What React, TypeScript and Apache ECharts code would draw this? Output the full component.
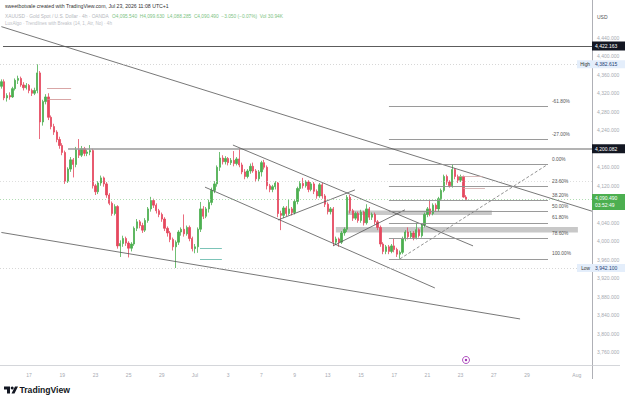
import React, { useEffect, useRef } from "react";
import * as echarts from "echarts";

const FONT = "'Liberation Sans', Arial, sans-serif";
const UP = "#4caf50";
const DOWN = "#e5485e";

// ---- time axis (4h bars, 6 per trading day; first day starts at 08:00) ----
const tradingDays = [
  "06-15", "06-16", "06-17", "06-18", "06-19", "06-22", "06-23", "06-24", "06-25", "06-26", "06-29", "06-30",
  "07-01", "07-02", "07-03", "07-06", "07-07", "07-08", "07-09", "07-10", "07-13", "07-14", "07-15", "07-16",
  "07-17", "07-20", "07-21", "07-22", "07-23", "07-24", "07-27", "07-28", "07-29", "07-30", "07-31", "08-03",
];
const firstDayHours = ["08", "12", "16", "20"];
const barHours = ["00", "04", "08", "12", "16", "20"];

const xTickDays = ["06-17", "06-19", "06-23", "06-25", "06-29", "07-01", "07-03", "07-07", "07-09", "07-13", "07-15", "07-17", "07-21", "07-23", "07-27", "07-29", "08-03"];
const xTickTexts = ["17", "19", "23", "25", "29", "Jul", "3", "7", "9", "13", "15", "17", "21", "23", "27", "29", "Aug"];

// ---- candles: [open, close, low, high] ----
const ohlc: number[][] = [
  [4335, 4345, 4330, 4350], [4345, 4310, 4305, 4350], [4310, 4315, 4302, 4320], [4315, 4312, 4306, 4322],
  [4312, 4330, 4310, 4334], [4330, 4348, 4326, 4352], [4348, 4352, 4340, 4358], [4352, 4338, 4334, 4356],
  [4338, 4332, 4326, 4344], [4332, 4337, 4328, 4342], [4337, 4326, 4320, 4340], [4326, 4320, 4314, 4330],
  [4320, 4326, 4316, 4332], [4326, 4364, 4320, 4382.615], [4364, 4258, 4221, 4368], [4258, 4302, 4250, 4306],
  [4302, 4312, 4296, 4318], [4312, 4268, 4262, 4320], [4268, 4248, 4242, 4272], [4248, 4236, 4230, 4254],
  [4236, 4220, 4214, 4240], [4220, 4207, 4200, 4226], [4207, 4192, 4186, 4212], [4192, 4130, 4124, 4196],
  [4130, 4156, 4126, 4160], [4156, 4176, 4150, 4182], [4176, 4166, 4138, 4180], [4166, 4198, 4160, 4204],
  [4198, 4186, 4180, 4221], [4186, 4200, 4182, 4206], [4200, 4190, 4184, 4204], [4190, 4193, 4184, 4198],
  [4193, 4196, 4186, 4208], [4196, 4120, 4114, 4200], [4120, 4107, 4100, 4124], [4107, 4126, 4102, 4130],
  [4126, 4137, 4120, 4142], [4137, 4124, 4118, 4140], [4124, 4100, 4094, 4128], [4100, 4082, 4078, 4104],
  [4082, 4060, 4055, 4086], [4060, 4075, 4056, 4080], [4075, 3990, 3984, 4078], [3990, 3995, 3966, 4002],
  [3995, 4006, 3988, 4012], [4006, 3996, 3990, 4010], [3996, 3985, 3965, 4000], [3985, 3994, 3978, 3998],
  [3994, 4028, 3990, 4032], [4028, 4042, 4022, 4048], [4042, 4034, 4028, 4046], [4034, 4024, 4018, 4040],
  [4024, 4045, 4020, 4050], [4045, 4070, 4040, 4074], [4070, 4088, 4064, 4096], [4088, 4078, 4072, 4092],
  [4078, 4066, 4060, 4082], [4066, 4058, 4052, 4070], [4058, 4048, 4042, 4062], [4048, 4028, 4022, 4052],
  [4028, 4018, 4010, 4032], [4018, 4004, 3998, 4022], [4004, 3988, 3980, 4008], [3988, 3998, 3942.1, 4002],
  [3998, 4020, 3992, 4024], [4020, 4026, 4012, 4030], [4026, 4016, 4010, 4058], [4016, 4030, 4012, 4034],
  [4030, 4006, 4000, 4034], [4006, 3984, 3978, 4010], [3984, 3988, 3974, 3994], [3988, 4026, 3975, 4030],
  [4026, 4070, 4020, 4085], [4070, 4054, 4048, 4076], [4054, 4070, 4050, 4074], [4070, 4084, 4062, 4090],
  [4084, 4110, 4078, 4116], [4110, 4124, 4104, 4130], [4124, 4160, 4118, 4164], [4160, 4180, 4152, 4193],
  [4180, 4172, 4166, 4186], [4172, 4179, 4166, 4184], [4179, 4170, 4164, 4182], [4170, 4175, 4165, 4180],
  [4175, 4168, 4162, 4195], [4168, 4178, 4164, 4182], [4178, 4165, 4160, 4201], [4165, 4150, 4145, 4170],
  [4150, 4140, 4134, 4156], [4140, 4152, 4136, 4156], [4152, 4162, 4146, 4168], [4162, 4152, 4148, 4170],
  [4152, 4135, 4128, 4156], [4135, 4150, 4130, 4154], [4150, 4170, 4140, 4174], [4170, 4160, 4155, 4176],
  [4160, 4120, 4112, 4164], [4120, 4112, 4106, 4124], [4112, 4118, 4106, 4122], [4118, 4126, 4112, 4130],
  [4126, 4060, 4052, 4128], [4060, 4056, 4024, 4066], [4056, 4072, 4050, 4076], [4072, 4060, 4054, 4076],
  [4060, 4070, 4056, 4090], [4070, 4062, 4056, 4074], [4062, 4086, 4058, 4090], [4086, 4114, 4080, 4118],
  [4114, 4125, 4108, 4130], [4125, 4120, 4114, 4137], [4120, 4128, 4116, 4132], [4128, 4112, 4106, 4132],
  [4112, 4124, 4108, 4128], [4124, 4108, 4102, 4128], [4108, 4098, 4092, 4112], [4098, 4122, 4094, 4126],
  [4122, 4098, 4092, 4126], [4098, 4080, 4074, 4102], [4080, 4064, 4058, 4084], [4064, 4070, 4058, 4074],
  [4070, 3998, 3990, 4074], [3998, 4005, 3992, 4010], [4005, 3998, 3988, 4008], [3998, 4018, 3994, 4022],
  [4018, 4026, 4012, 4030], [4026, 4095, 4020, 4100], [4095, 4066, 4060, 4100], [4066, 4050, 4044, 4070],
  [4050, 4060, 4046, 4064], [4060, 4045, 4040, 4064], [4045, 4063, 4040, 4068], [4063, 4040, 4034, 4066],
  [4040, 4070, 4036, 4080], [4070, 4052, 4046, 4074], [4052, 4058, 4046, 4062], [4058, 4042, 4036, 4062],
  [4042, 4030, 4024, 4046], [4030, 3994, 3988, 4034], [3994, 3978, 3972, 3998], [3978, 3988, 3972, 3992],
  [3988, 3978, 3972, 3992], [3978, 3990, 3974, 3994], [3990, 3982, 3976, 4005], [3982, 3972, 3966, 3986],
  [3972, 3976, 3962, 3980], [3976, 4005, 3972, 4010], [4005, 4020, 4000, 4024], [4020, 4010, 4004, 4030],
  [4010, 4018, 4006, 4022], [4018, 4008, 4002, 4022], [4008, 4025, 4004, 4040], [4025, 4012, 4008, 4028],
  [4012, 4035, 4008, 4038], [4035, 4058, 4030, 4062], [4058, 4070, 4052, 4074], [4070, 4060, 4054, 4090],
  [4060, 4078, 4056, 4082], [4078, 4070, 4064, 4082], [4070, 4092, 4064, 4096], [4092, 4110, 4088, 4114],
  [4110, 4140, 4106, 4144], [4140, 4128, 4122, 4144], [4128, 4120, 4116, 4132], [4120, 4155, 4116, 4166],
  [4155, 4140, 4134, 4158], [4140, 4132, 4126, 4144], [4132, 4140, 4128, 4144], [4140, 4095.54, 4094, 4142],
  [4095.54, 4090.49, 4088.285, 4099.63],
];

// ---- price axis ----
const yMin = 3720;
const yMax = 4520;
const yStep = 40;
const yShownMin = 3760;
const yShownMax = 4440;

// ---- key prices ----
const lastPrice = 4090.49;
const countdown = "03:52:49";
const highPrice = 4382.615;
const lowPrice = 3942.1;
const levelTop = 4422.163;
const levelMid = 4200.082;
const dottedLevel = 4128.8;

// ---- fibonacci retracement ----
const fibHigh = 4166;
const fibLow = 3962;
const fibRatios = [-0.618, -0.27, 0, 0.236, 0.382, 0.5, 0.618, 0.786, 1];
const fibLabels = ["-61.80%", "-27.00%", "0.00%", "23.60%", "38.20%", "50.00%", "61.80%", "78.60%", "100.00%"];
const fibFrom = 140.1;
const fibTo = 197.6;

// ---- drawings in (bar index, price) ----
const solidTrendLines = [
  [[0, 4464], [213.5, 4065]],
  [[0, 4019], [187.5, 3832]],
  [[83.7, 4208], [170.5, 3990]],
  [[73.6, 4117], [156.7, 3899]],
  [[100, 4046], [127.8, 4111]],
  [[119.9, 3990], [145.9, 4068]],
];
const dashedTrendLines = [[[144.1, 3962], [197.2, 4165]]];
const redMarks = [[[16.5, 4331], [25.2, 4331]], [[16.5, 4308], [25.2, 4308]]];
const tealMarks = [[[71.8, 3985], [79.7, 3985]], [[71.8, 3962], [79.7, 3962]]];
const pinkMarks = [[[165, 4141], [174, 4141]], [[167, 4115], [174.8, 4115]]];
const grayBands = [
  [124.9, 4066.5, 177.3, 4056.8],
  [120.9, 4030.8, 208.4, 4018.9],
];

const header = "sweetbotvale created with TradingView.com, Jul 23, 2026 11:08 UTC+1";
const legendTitle = "XAUUSD · Gold Spot / U.S. Dollar · 4h · OANDA";
const legendValues = "O4,095.540  H4,099.630  L4,088.285  C4,090.490  −3.050 (−0.07%)  Vol 30.94K";
const legendStudy = "LuxAlgo · Trendlines with Breaks (14, 1, Atr, No) · 4h";

const fmtPrice = (v: number) => {
  const [a, b] = v.toFixed(3).split(".");
  return a.replace(/\B(?=(\d{3})+(?!\d))/g, ",") + "." + b;
};

const categories: string[] = [];
tradingDays.forEach((d, k) => {
  (k === 0 ? firstDayHours : barHours).forEach((h) => categories.push(`${d} ${h}`));
});
const tickMap = new Map<string, string>();
xTickDays.forEach((d, k) => tickMap.set(`${d} 00`, xTickTexts[k]));
const maxIndex = categories.length - 0.5;

// axis labels that sit under a price tag are hidden (as on the reference)
const tagPrices = [levelMid, lastPrice];
const hiddenByTag = (v: number) => tagPrices.some((p) => Math.abs(v - p) < 16);

const seg = (coords: number[][], color: string, width: number, type: any = "solid") => ({
  coords,
  lineStyle: { color, width, type, opacity: 1, curveness: 0 },
});

export default function App() {
  const ref = useRef<HTMLDivElement>(null);
  useEffect(() => {
    const chart = echarts.init(ref.current!, undefined, { renderer: "svg" });
    const fibPrices = fibRatios.map((r) => fibHigh - r * (fibHigh - fibLow));

    const lineData: any[] = [
      seg([[0.58, levelTop], [maxIndex, levelTop]], "#4a4a4a", 0.9),
      seg([[24.1, levelMid], [maxIndex, levelMid]], "#9a9a9a", 1.6),
      ...solidTrendLines.map((c) => seg(c, "#555555", 0.8)),
      ...dashedTrendLines.map((c) => seg(c, "#777777", 0.8, [3, 2])),
      ...fibPrices.map((p) => seg([[fibFrom, p], [fibTo, p]], "#8f8f8f", 0.9)),
      ...redMarks.map((c) => seg(c, "#cf8f8f", 0.8)),
      ...tealMarks.map((c) => seg(c, "#5bb5a6", 0.8)),
      ...pinkMarks.map((c) => seg(c, "#cfa8a8", 0.8)),
      seg([[-0.5, highPrice], [maxIndex, highPrice]], "#c5c5c5", 0.7, [1, 2]),
      seg([[-0.5, lowPrice], [maxIndex, lowPrice]], "#c5c5c5", 0.7, [1, 2]),
      seg([[-0.5, dottedLevel], [maxIndex, dottedLevel]], "#d0d0d0", 0.7, [1, 2]),
      seg([[-0.5, lastPrice], [maxIndex, lastPrice]], "#8fce92", 0.7, [1, 2]),
    ];

    chart.setOption({
      animation: false,
      backgroundColor: "#ffffff",
      grid: { left: 0, right: 33, top: 0.75, bottom: 30.25, containLabel: false },
      xAxis: [
        {
          type: "category",
          data: categories,
          boundaryGap: true,
          axisLine: { show: false },
          axisTick: { show: false },
          splitLine: { show: false },
          axisLabel: {
            interval: (_i: number, v: string) => tickMap.has(v),
            formatter: (v: string) => tickMap.get(v) ?? "",
            fontSize: 5,
            color: "#a6a9b1",
            margin: 2,
            fontFamily: FONT,
          },
        },
        { type: "value", min: -0.5, max: maxIndex, show: false },
      ],
      yAxis: {
        type: "value",
        position: "right",
        min: yMin,
        max: yMax,
        interval: yStep,
        axisLine: { show: false },
        axisTick: { show: false },
        splitLine: { show: false },
        axisLabel: {
          margin: 5,
          fontSize: 5,
          color: "#a6a9b1",
          fontFamily: FONT,
          align: "left",
          formatter: (v: number) =>
            v < yShownMin || v > yShownMax || hiddenByTag(v) ? "" : fmtPrice(v),
        },
      },
      series: [
        {
          type: "custom",
          xAxisIndex: 1,
          yAxisIndex: 0,
          silent: true,
          z: 1,
          data: grayBands,
          renderItem: (_p: any, api: any) => {
            const a = api.coord([api.value(0), api.value(1)]);
            const b = api.coord([api.value(2), api.value(3)]);
            return {
              type: "rect",
              shape: { x: a[0], y: a[1], width: b[0] - a[0], height: b[1] - a[1] },
              style: { fill: "#c8c8c8" },
            };
          },
        },
        {
          type: "candlestick",
          xAxisIndex: 0,
          yAxisIndex: 0,
          data: ohlc,
          barWidth: 1.8,
          z: 3,
          itemStyle: { color: UP, color0: DOWN, borderColor: UP, borderColor0: DOWN, borderWidth: 0.8 },
        },
        {
          type: "lines",
          coordinateSystem: "cartesian2d",
          xAxisIndex: 1,
          yAxisIndex: 0,
          silent: true,
          z: 4,
          clip: true,
          data: lineData,
        },
      ],
    });

    const px = (i: number) => chart.convertToPixel({ xAxisIndex: 1 } as any, i) as unknown as number;
    const py = (p: number) => chart.convertToPixel({ yAxisIndex: 0 } as any, p) as unknown as number;

    const txt = (x: number, y: number, text: string, size: number, fill: string, extra: any = {}) => ({
      type: "text",
      x,
      y,
      z: 100,
      silent: true,
      style: { text, fontSize: size, fill, fontFamily: FONT, verticalAlign: "middle", align: "left", ...extra },
    });
    const rect = (x: number, y: number, w: number, h: number, fill: string) => ({
      type: "rect",
      z: 99,
      silent: true,
      shape: { x, y, width: w, height: h },
      style: { fill },
    });

    const g: any[] = [];
    // axis frame lines
    g.push({ type: "line", z: 90, silent: true, shape: { x1: 592.5, y1: 0, x2: 592.5, y2: 379 }, style: { stroke: "#9a9ca3", lineWidth: 0.8 } });
    g.push({ type: "line", z: 90, silent: true, shape: { x1: 0, y1: 365.5, x2: 620, y2: 365.5 }, style: { stroke: "#c9cbd0", lineWidth: 0.8 } });
    // header and legend
    g.push(txt(5, 6, header, 5.2, "#333333"));
    g.push(txt(5, 16, legendTitle, 4.8, "#b5b7bd"));
    g.push(txt(112, 16, legendValues, 4.8, "#7dc383"));
    g.push(txt(5, 23.5, legendStudy, 4.6, "#c0c2c7"));
    g.push(txt(597, 17, "USD", 5, "#555555"));
    // fib labels
    fibRatios.forEach((r, k) => {
      const p = fibHigh - r * (fibHigh - fibLow);
      g.push(txt(px(fibTo) + 4, py(p) - 5, fibLabels[k], 4.8, "#555555"));
    });
    // black level tags
    [levelTop, levelMid].forEach((p) => {
      const y = py(p);
      g.push(rect(592, y - 4.5, 33, 9, "#131722"));
      g.push(txt(595, y, fmtPrice(p), 5, "#ffffff"));
    });
    // high / low tags
    [["High", highPrice], ["Low", lowPrice]].forEach(([name, p]: any) => {
      const y = py(p);
      g.push(rect(577, y - 4, 48, 8, "#e4eefb"));
      g.push(txt(590, y, name, 4.8, "#333333", { align: "right" }));
      g.push(txt(595, y, fmtPrice(p), 5, "#1f3f73"));
    });
    // last price tag
    {
      const y = py(lastPrice);
      g.push(rect(592, y - 5.5, 33, 16, UP));
      g.push(txt(595, y - 1, fmtPrice(lastPrice), 5, "#ffffff"));
      g.push(txt(595, y + 6, countdown, 5, "#ffffff"));
    }
    // event marker
    g.push({ type: "circle", z: 95, silent: true, shape: { cx: 466, cy: 360, r: 3.5 }, style: { fill: "#ffffff", stroke: "#9c27b0", lineWidth: 0.8 } });
    g.push({ type: "circle", z: 96, silent: true, shape: { cx: 466, cy: 360, r: 1.2 }, style: { fill: "#9c27b0" } });
    // logo
    g.push({ type: "polygon", z: 95, silent: true, shape: { points: [[4, 386.5], [10, 386.5], [10, 393.5], [7, 393.5], [7, 389.5], [4, 389.5]] }, style: { fill: "#131722" } });
    g.push({ type: "circle", z: 95, silent: true, shape: { cx: 12.2, cy: 388, r: 1.5 }, style: { fill: "#131722" } });
    g.push({ type: "polygon", z: 95, silent: true, shape: { points: [[15, 386.5], [18, 386.5], [14.5, 393.5], [11.5, 393.5]] }, style: { fill: "#131722" } });
    g.push(txt(19.5, 390.2, "TradingView", 8.6, "#131722", { fontWeight: "bold" }));

    chart.setOption({ graphic: g });
    return () => chart.dispose();
  }, []);
  return (
    <div
      ref={ref}
      style={{ position: "fixed", left: 0, top: 0, width: 625, height: 401, background: "#ffffff" }}
    />
  );
}
